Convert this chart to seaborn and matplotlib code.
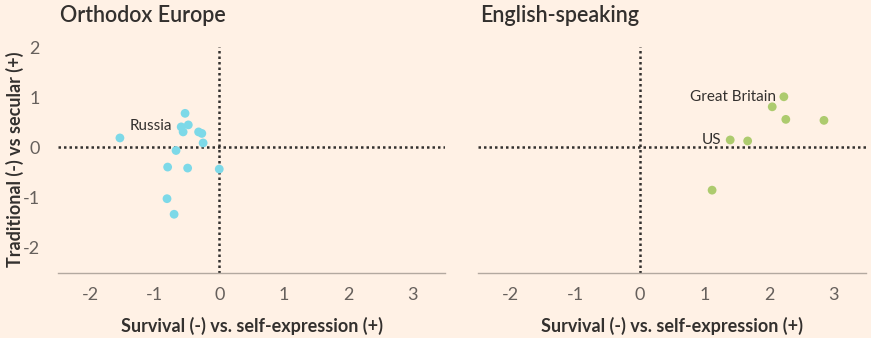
import matplotlib
matplotlib.use("Agg")
import matplotlib.pyplot as plt
import seaborn as sns
import pandas as pd

# Data
ortho_x = [-1.54, -0.53, -0.59, -0.48, -0.56, -0.32, -0.27, -0.25, -0.67, -0.80, -0.49, 0.00, -0.81, -0.70]
ortho_y = [0.19, 0.68, 0.41, 0.45, 0.31, 0.31, 0.28, 0.09, -0.06, -0.39, -0.41, -0.43, -1.02, -1.33]
ortho_names = ["Russia"] + [""] * 13

eng_x = [2.23, 2.05, 2.26, 2.85, 1.40, 1.67, 1.12]
eng_y = [1.01, 0.81, 0.56, 0.54, 0.15, 0.13, -0.85]
eng_names = ["Great Britain", "", "", "", "US", "", ""]

titles = ["Orthodox Europe", "English-speaking"]
colors = ["#7DD9E8", "#ADCB6E"]
xticks = [-2, -1, 0, 1, 2, 3]
yticks = [-2, -1, 0, 1, 2]
xlabel = "Survival (-) vs. self-expression (+)"
ylabel = "Traditional (-) vs secular (+)"

BG = "#FFF1E5"
TXT = "#33302E"
TICK = "#66605C"

sns.set_style("white")
plt.rcParams["font.family"] = ["Lato", "DejaVu Sans"]

fig = plt.figure(figsize=(8.71, 3.38), dpi=100, facecolor=BG)
W, H = 871, 338
ax_l = fig.add_axes([58 / W, 1 - 273 / H, (445 - 58) / W, (273 - 32) / H])
ax_r = fig.add_axes([478 / W, 1 - 273 / H, (866 - 478) / W, (273 - 32) / H])

datasets = [
    pd.DataFrame({"x": ortho_x, "y": ortho_y, "name": ortho_names}),
    pd.DataFrame({"x": eng_x, "y": eng_y, "name": eng_names}),
]
label_offsets = {"Russia": (7, 8.5, "left"), "Great Britain": (-6, 0, "right"),
                 "US": (-6, 0, "right")}

for i, (ax, df) in enumerate(zip([ax_l, ax_r], datasets)):
    ax.set_facecolor(BG)
    ax.set_xlim(-2.5, 3.5)
    ax.set_ylim(-2.5, 2.3)
    ax.plot([-2.5, 3.5], [0, 0], linestyle=(0, (1, 1.2)), color=TXT, lw=1.8, zorder=1)
    ax.plot([0, 0], [-2.5, 2.0], linestyle=(0, (1, 1.2)), color=TXT, lw=1.8, zorder=1)
    sns.scatterplot(data=df, x="x", y="y", ax=ax, color=colors[i], s=40,
                    edgecolor="none", linewidth=0, zorder=3, legend=False)
    for _, r in df.iterrows():
        if r["name"]:
            dx, dy, ha = label_offsets[r["name"]]
            ax.annotate(r["name"], (r["x"], r["y"]), xytext=(dx, dy),
                        textcoords="offset points", ha=ha, va="center",
                        fontsize=11, color=TXT)
    for s in ["top", "right", "left"]:
        ax.spines[s].set_visible(False)
    ax.spines["bottom"].set_color("#B3A9A0")
    ax.spines["bottom"].set_linewidth(1)
    ax.set_xticks(xticks)
    ax.set_xticklabels([str(t) for t in xticks])
    ax.tick_params(axis="x", length=6, width=1, color="#B3A9A0", labelcolor=TICK,
                   labelsize=13, pad=4)
    ax.set_yticks(yticks)
    if i == 0:
        ax.set_yticklabels([str(t) for t in yticks])
        ax.tick_params(axis="y", length=0, labelcolor=TICK, labelsize=13, pad=13)
        ax.set_ylabel(ylabel, fontsize=13, fontweight="bold", color=TXT)
        ax.yaxis.set_label_coords(-0.088, 0.47)
    else:
        ax.set_yticklabels([])
        ax.tick_params(axis="y", length=0)
        ax.set_ylabel("")
    ax.set_xlabel(xlabel, fontsize=13, fontweight="bold", color=TXT, labelpad=10)
    ax.grid(False)

fig.text(60 / W, 1 - 16 / H, titles[0], fontsize=15.5, fontweight="semibold",
         color=TXT, va="center", ha="left")
fig.text(480 / W, 1 - 16 / H, titles[1], fontsize=15.5, fontweight="semibold",
         color=TXT, va="center", ha="left")

fig.savefig("out.png", dpi=100, facecolor=BG)
